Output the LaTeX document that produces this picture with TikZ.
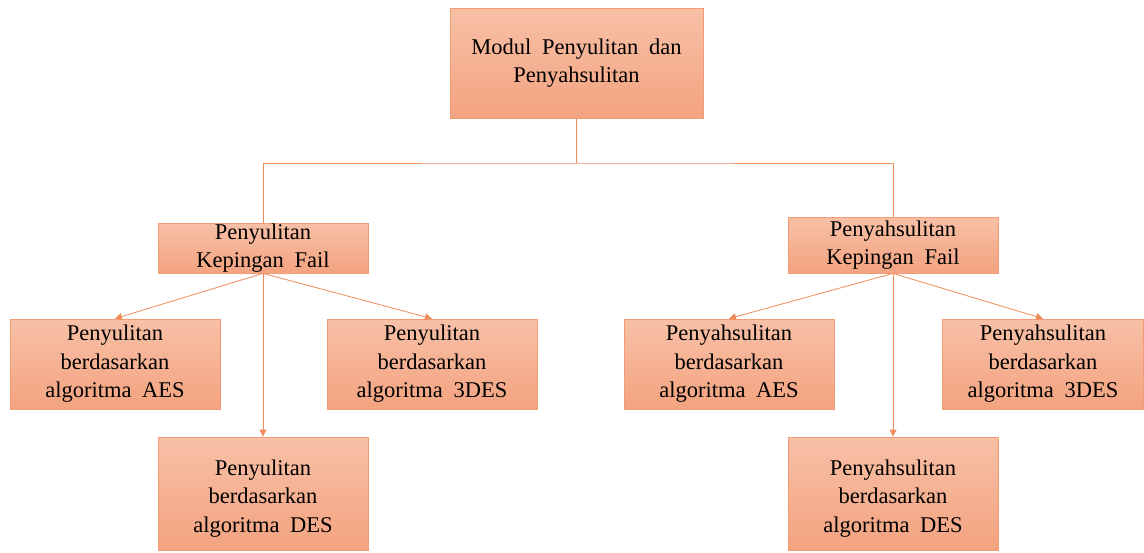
\documentclass[tikz,border=0pt]{standalone}
\usepackage{fontspec}
\setmainfont{Liberation Serif}[WordSpace=1.9]
\usetikzlibrary{arrows.meta}
\definecolor{boxtop}{RGB}{248,192,166}
\definecolor{boxbot}{RGB}{243,163,128}
\definecolor{boxline}{RGB}{241,156,118}
\definecolor{conn}{RGB}{238,140,90}
\newcommand{\lowtext}[1]{\parbox[c][100pt][c]{205pt}{\vspace*{10pt}\centering #1}}
\tikzset{
  box/.style={draw=boxline, line width=0.8pt, top color=boxtop, bottom color=boxbot,
    align=center, font=\fontsize{22.5}{28.5}\selectfont, inner sep=0pt},
  link/.style={draw=conn, line width=0.8pt},
  arr/.style={link, -{Triangle[length=7pt,width=7pt]}}
}
\begin{document}
\begin{tikzpicture}[x=1pt,y=-1pt]
\useasboundingbox (0,0) rectangle (1144,552);
\node[box, minimum width=253pt, minimum height=110pt] (top) at (576.5,63) {Modul Penyulitan dan\\Penyahsulitan};
\node[box, minimum width=210pt, minimum height=50pt] (L) at (263,248) {Penyulitan\\Kepingan Fail};
\node[box, minimum width=210pt, minimum height=56pt] (R) at (893,245) {Penyahsulitan\\Kepingan Fail};
\node[box, minimum width=210pt, minimum height=90pt] (LA) at (115,364) {Penyulitan\\berdasarkan\\algoritma AES};
\node[box, minimum width=210pt, minimum height=90pt] (L3) at (432,364) {Penyulitan\\berdasarkan\\algoritma 3DES};
\node[box, minimum width=210pt, minimum height=113pt] (LD) at (263,493.5) {\lowtext{Penyulitan\\berdasarkan\\algoritma DES}};
\node[box, minimum width=210pt, minimum height=90pt] (RA) at (729,364) {Penyahsulitan\\berdasarkan\\algoritma AES};
\node[box, minimum width=201pt, minimum height=90pt] (R3) at (1043,364) {Penyahsulitan\\berdasarkan\\algoritma 3DES};
\node[box, minimum width=210pt, minimum height=113pt] (RD) at (893,493.5) {\lowtext{Penyahsulitan\\berdasarkan\\algoritma DES}};
\coordinate (mid) at (576.5,163);
\draw[link] (top.south) -- (mid);
\draw[link] (L.north) |- (mid) -| (R.north);
\draw[arr] (L.south) -- (LA.north);
\draw[arr] (L.south) -- (L3.north);
\draw[arr] (L.south) -- (LD.north);
\draw[arr] (R.south) -- (RA.north);
\draw[arr] (R.south) -- (R3.north);
\draw[arr] (R.south) -- (RD.north);
\end{tikzpicture}
\end{document}
